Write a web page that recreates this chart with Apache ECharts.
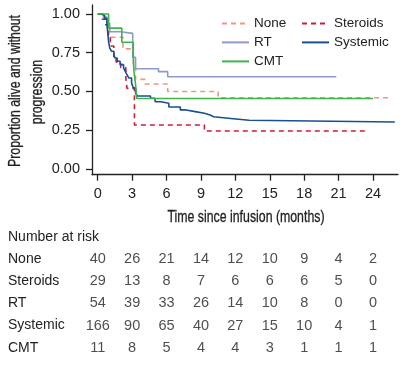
<!DOCTYPE html>
<html><head><meta charset="utf-8">
<script src="https://cdn.jsdelivr.net/npm/echarts@6/dist/echarts.min.js"></script>
<style>html,body{margin:0;padding:0;background:#fff}#c{width:400px;height:366px}</style>
</head><body><div id="c"></div>
<script>
const groups = ['None','Steroids','RT','Systemic','CMT'];
const months = [0,3,6,9,12,15,18,21,24];
const yTicks = [0,0.25,0.5,0.75,1];

// Kaplan-Meier curves [time (months), proportion]
const noneCurve = [[0,1],[0.5,0.975],[0.8,0.925],[1.0,0.85],[2.2,0.775],[3.1,0.65],[3.3,0.578],[4.1,0.548],[6.1,0.50],[10.5,0.46],[25.5,0.46]];
const steroidsCurve = [[0,1],[0.4,0.966],[0.7,0.93],[0.9,0.86],[1.1,0.793],[1.4,0.724],[1.6,0.69],[2.0,0.655],[2.45,0.586],[2.55,0.52],[3.2,0.284],[9.3,0.245],[23.45,0.245]];
const rtCurve = [[0,1],[0.5,0.98],[0.8,0.94],[1.05,0.885],[2.0,0.875],[3.05,0.72],[3.3,0.647],[5.3,0.628],[6.1,0.595],[20.8,0.595]];
const systemicCurve = [[0,1],[0.3,0.99],[0.6,0.97],[0.8,0.93],[0.9,0.86],[0.95,0.82],[1.05,0.78],[1.2,0.76],[1.4,0.74],[1.5,0.716],[1.7,0.695],[1.95,0.673],[2.25,0.652],[2.4,0.63],[2.55,0.608],[2.7,0.587],[2.95,0.555],[3.1,0.523],[3.3,0.49],[3.45,0.471],[4.6,0.456],[5.0,0.434],[5.5,0.424],[6.2,0.40],[7.2,0.381],[7.7,0.37],[8.5,0.359],[9.3,0.348],[9.8,0.337],[10.1,0.326],[11.6,0.314],[13.2,0.303],[25.9,0.303]];
const cmtCurve = [[0,1],[0.95,0.909],[2.1,0.818],[3.1,0.727],[3.15,0.636],[3.3,0.545],[3.4,0.455],[24.0,0.455]];

// Number at risk
const riskNone = [40,26,21,14,12,10,9,4,2];
const riskSteroids = [29,13,8,7,6,6,6,5,0];
const riskRT = [54,39,33,26,14,10,8,0,0];
const riskSystemic = [166,90,65,40,27,15,10,4,1];
const riskCMT = [11,8,5,4,4,3,1,1,1];

const colors = {None:'#EE9884', Steroids:'#C81E3E', RT:'#8E9AC8', Systemic:'#1B4F8E', CMT:'#3DB54A'};
const curves = {None:noneCurve, Steroids:steroidsCurve, RT:rtCurve, Systemic:systemicCurve, CMT:cmtCurve};
const dashed = {None:[5,4], Steroids:[5,4]};
const risks = {None:riskNone, Steroids:riskSteroids, RT:riskRT, Systemic:riskSystemic, CMT:riskCMT};

const FONT = "'Liberation Sans', Arial, sans-serif";
const TXT = '#222';

const chart = echarts.init(document.getElementById('c'), null, {renderer:'canvas'});

const series = groups.map(g => ({
  name: g, type: 'line', step: 'end', symbol: 'none', showSymbol: false,
  xAxisIndex: 0, yAxisIndex: 0,
  data: curves[g],
  lineStyle: {color: colors[g], width: 1.6, type: dashed[g] ? dashed[g] : 'solid'},
  itemStyle: {color: colors[g]},
  emphasis: {disabled: true}, animation: false
}));

const riskData = [];
groups.forEach(g => risks[g].forEach((n, i) => riskData.push([months[i], g, n])));
series.push({
  type: 'scatter', xAxisIndex: 1, yAxisIndex: 1, symbolSize: 1,
  itemStyle: {color: 'rgba(0,0,0,0)'}, data: riskData, animation: false, silent: true,
  label: {show: true, position: 'inside', formatter: p => String(p.data[2]),
    color: TXT, fontFamily: FONT, fontSize: 14.5}
});

const lx = {show:false};
const legendCommon = {orient:'vertical', top:16.4, padding:0, itemWidth:27, itemHeight:14, itemGap:5,
  itemStyle:{opacity:0, borderWidth:0}, textStyle:{color:TXT, fontFamily:FONT, fontSize:13.5}, selectedMode:false};
const titleStyle = {fill:TXT, stroke:TXT, lineWidth:0.3, font:"16px " + FONT, textAlign:'center', textVerticalAlign:'middle'};
chart.setOption({
  animation: false,
  grid: [
    {left: 92, right: 2, top: 5, bottom: 191.3},
    {left: 92, right: 2, top: 247.9, height: 111}
  ],
  xAxis: [
    {type:'value', gridIndex:0, min:-0.5, max:26.18,
     axisLine:{show:true, onZero:false, lineStyle:{color:'#222', width:1.3}},
     axisTick:{show:true, customValues: months, length:6, lineStyle:{color:'#222', width:1.3}},
     axisLabel:{customValues: months, margin:12, color:TXT, fontFamily:FONT, fontSize:14.5},
     splitLine:{show:false}},
    {type:'value', gridIndex:1, min:-0.5, max:26.18, axisLine:lx, axisTick:lx, axisLabel:lx, splitLine:lx}
  ],
  yAxis: [
    {type:'value', gridIndex:0, min:-0.037, max:1.058,
     axisLine:{show:true, onZero:false, lineStyle:{color:'#222', width:1.3}},
     axisTick:{show:true, customValues: yTicks, length:6, lineStyle:{color:'#222', width:1.3}},
     axisLabel:{customValues: yTicks, margin:12, formatter: v => v.toFixed(2), color:TXT, fontFamily:FONT, fontSize:14.5},
     splitLine:{show:false}},
    {type:'category', gridIndex:1, inverse:true, data: groups,
     axisLine:lx, axisTick:lx, splitLine:lx,
     axisLabel:{show:true, align:'left', margin:84, color:TXT, fontFamily:FONT, fontSize:14}}
  ],
  legend: [
    Object.assign({data:['None','RT','CMT'], left:221}, legendCommon),
    Object.assign({data:['Steroids','Systemic'], left:301}, legendCommon)
  ],
  graphic: [
    {type:'text', x:15.2, y:91, rotation:Math.PI/2, scaleX:0.77,
     style:Object.assign({text:'Proportion alive and without'}, titleStyle)},
    {type:'text', x:37.5, y:92, rotation:Math.PI/2, scaleX:0.77,
     style:Object.assign({text:'progression'}, titleStyle)},
    {type:'text', x:246, y:217.5, scaleX:0.77,
     style:Object.assign({text:'Time since infusion (months)'}, titleStyle)},
    {type:'text', x:8, y:237,
     style:{text:'Number at risk', fill:TXT, font:"14px " + FONT, textAlign:'left', textVerticalAlign:'middle'}}
  ],
  series: series
});
</script></body></html>
